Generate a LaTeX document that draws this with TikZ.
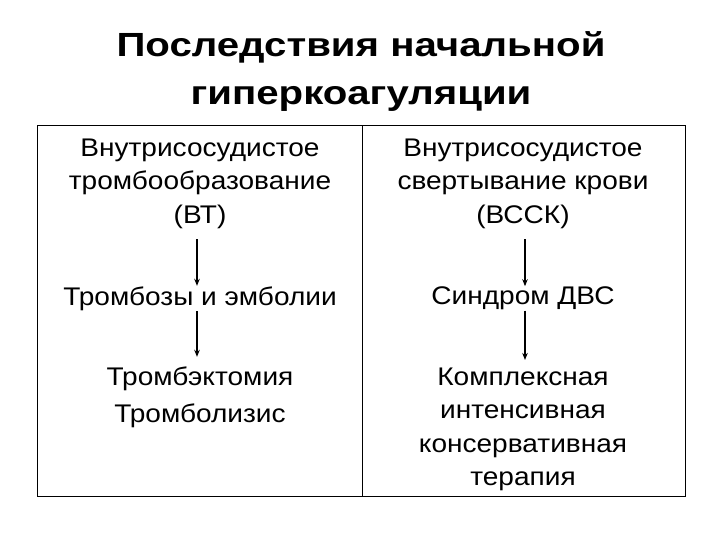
\documentclass[tikz,border=0pt]{standalone}
\usepackage{fontspec}
\setmainfont{Liberation Sans}[FakeStretch=1.1]
\newfontfamily\titlefont{Liberation Sans}[FakeStretch=1.2]
\usetikzlibrary{arrows.meta}
\begin{document}
\begin{tikzpicture}[x=1pt,y=-1pt,
  txt/.style={inner sep=0pt,align=center,font=\fontsize{25.5}{33.5}\selectfont},
  ttl/.style={inner sep=0pt,align=center,font=\titlefont\fontsize{33.5}{48}\selectfont\bfseries},
  arr/.style={line width=1.3pt,-{Stealth[length=7pt,width=5.5pt]}},
  frame/.style={line width=1pt}]
\useasboundingbox (0,0) rectangle (720,540);
\node[ttl] (title) at (361,71.5) {Последствия начальной\\гиперкоагуляции};
\draw[frame] (37,126) rectangle (685,496);
\draw[frame] (362,126) -- (362,496);
\node[txt] (vt) at (200,183.5) {Внутрисосудистое\\тромбообразование\\(ВТ)};
\node[txt] (vssk) at (523,183.5) {Внутрисосудистое\\свертывание крови\\(ВССК)};
\node[txt] (te) at (200,298.5) {Тромбозы и эмболии};
\node[txt] (dvs) at (523,298.5) {Синдром ДВС};
\node[txt,font=\fontsize{25.5}{37}\selectfont] (tl) at (200,397.5) {Тромбэктомия\\Тромболизис};
\node[txt,font=\fontsize{25.5}{33.3}\selectfont] (kit) at (523,429.5) {Комплексная\\интенсивная\\консервативная\\терапия};
\draw[arr,shorten <=10.5pt,shorten >=0.5pt] ([xshift=-3pt]vt.south) -- ([xshift=-3pt]te.north);
\draw[arr,shorten <=10.5pt,shorten >=0.5pt] ([xshift=2pt]vssk.south) -- ([xshift=2pt]dvs.north);
\draw[arr,shorten <=0.5pt,shorten >=10pt] ([xshift=-3pt]te.south) -- ([xshift=-3pt]tl.north);
\draw[arr,shorten <=0.5pt,shorten >=8pt] ([xshift=2pt]dvs.south) -- ([xshift=2pt]kit.north);
\end{tikzpicture}
\end{document}
